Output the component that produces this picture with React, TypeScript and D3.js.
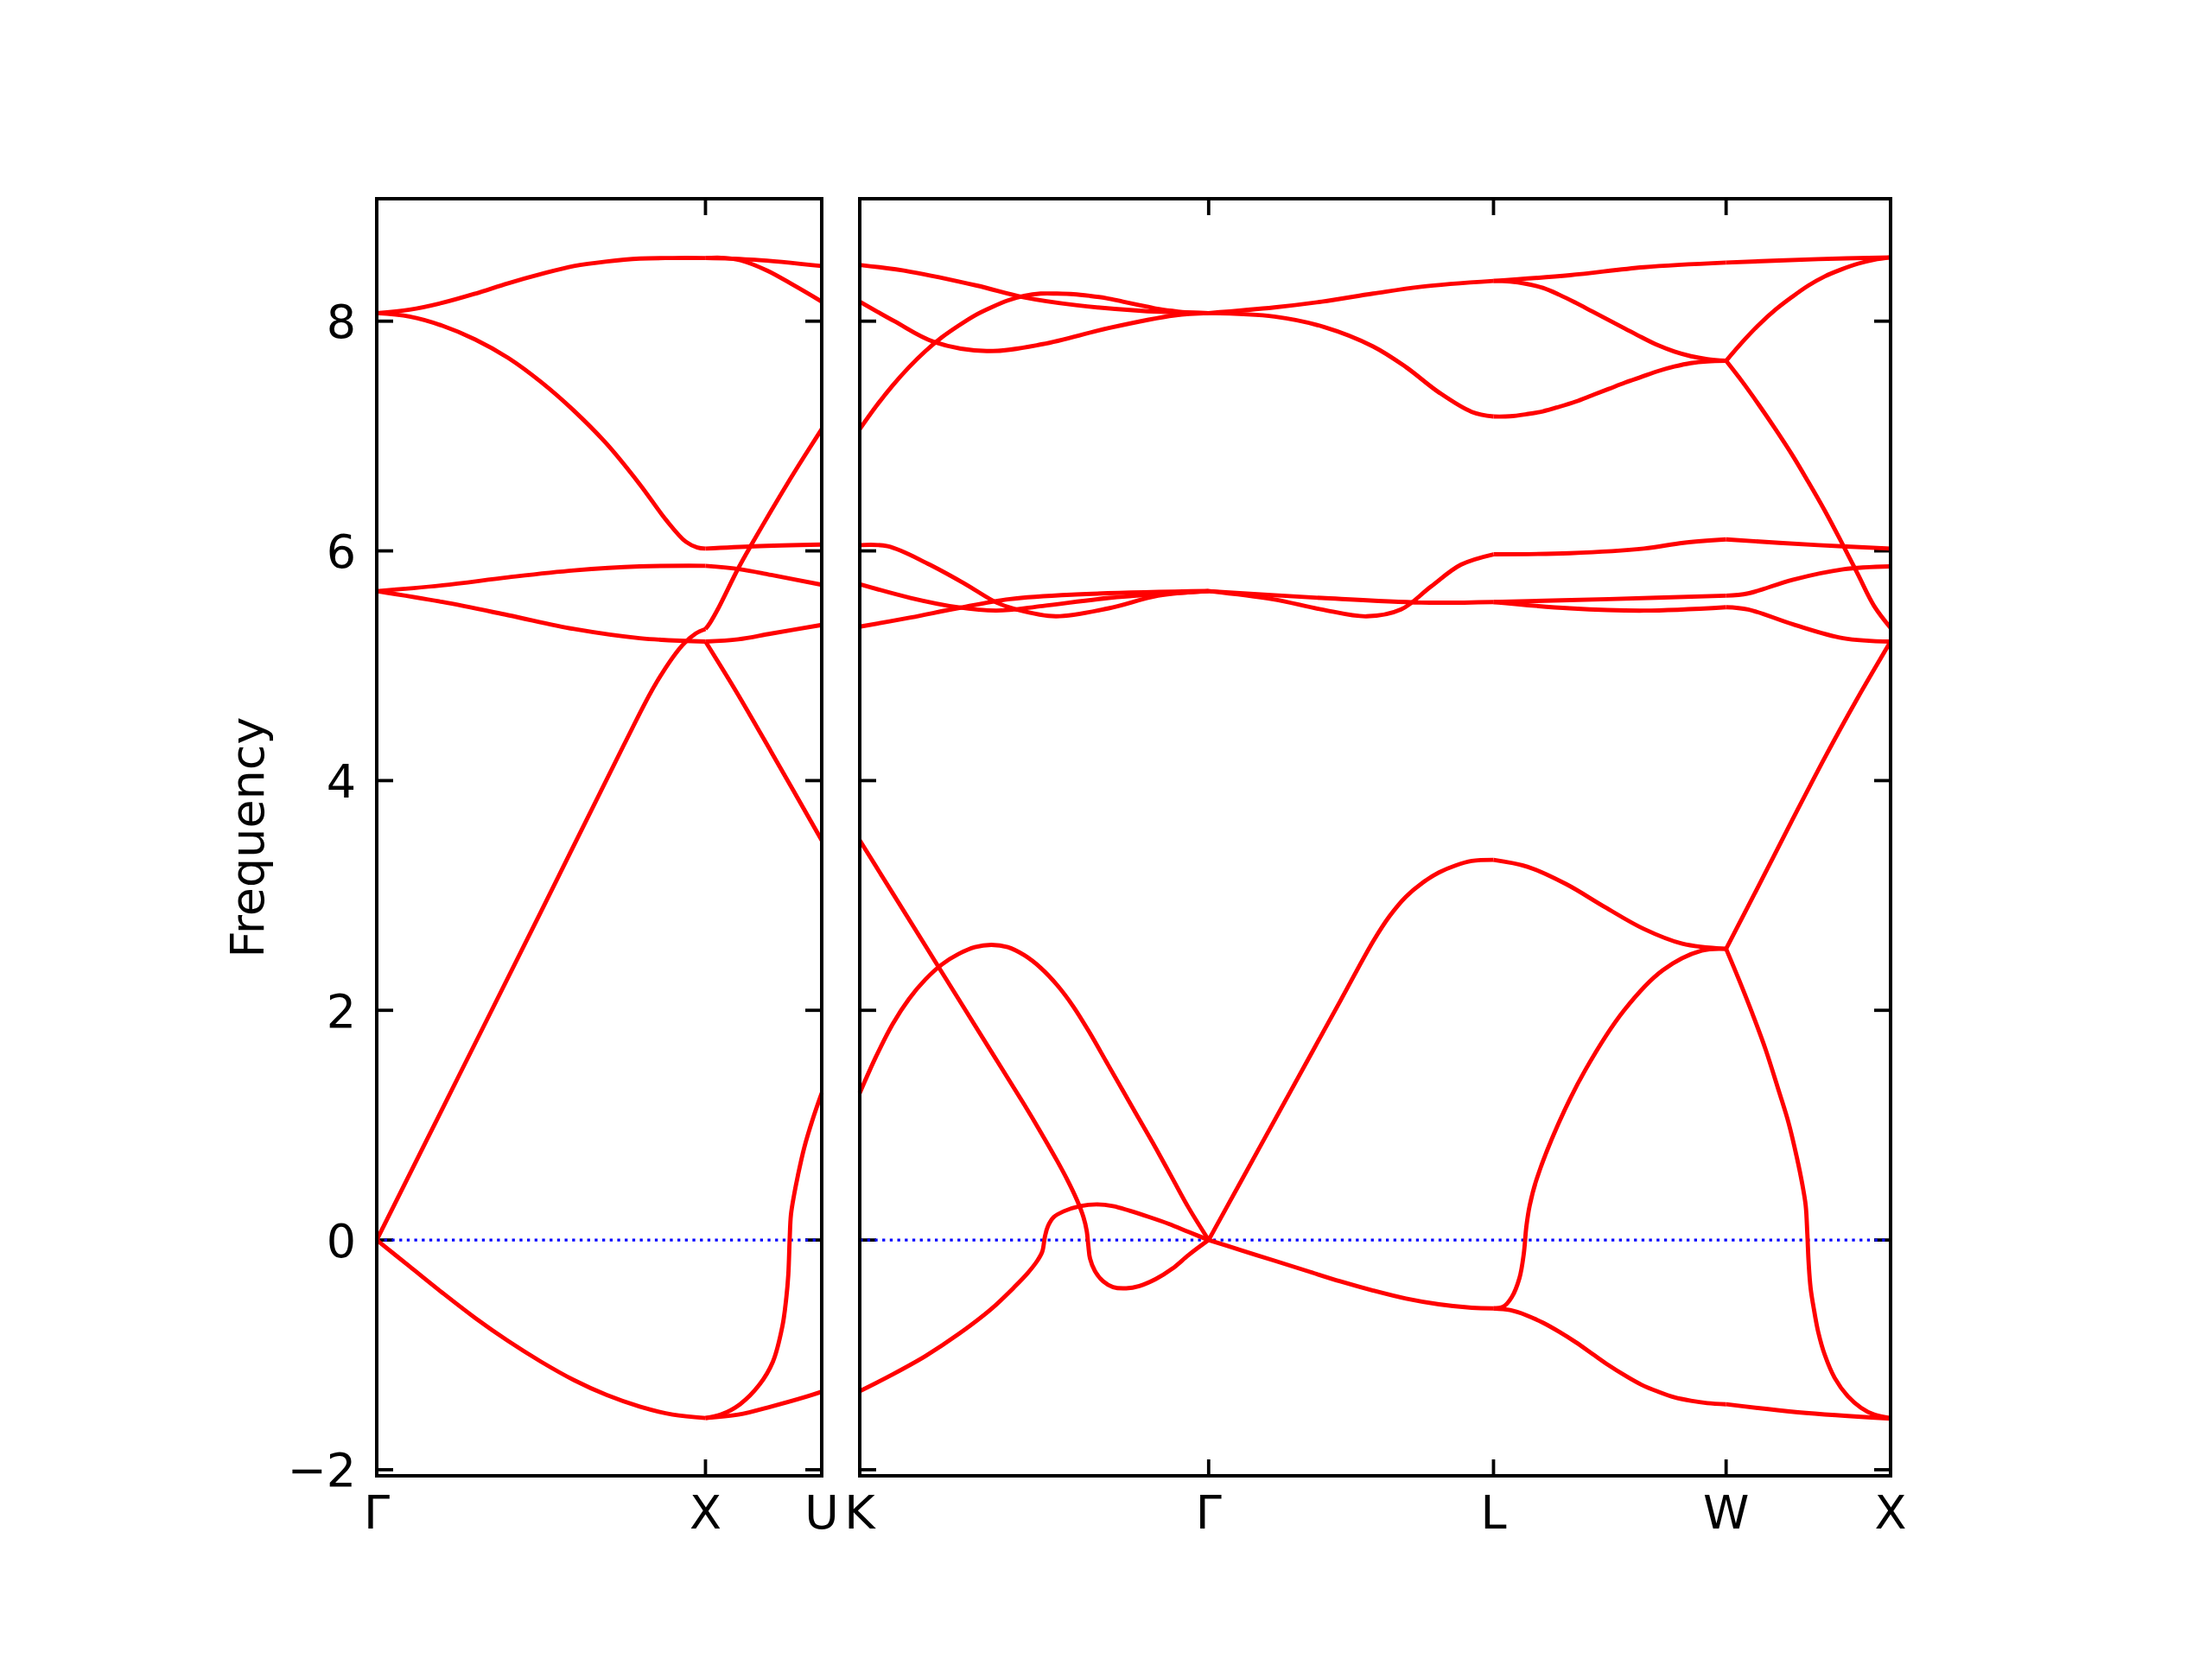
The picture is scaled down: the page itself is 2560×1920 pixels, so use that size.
import React, { useEffect, useRef } from 'react';
import * as d3 from 'd3';

type Pt = [number, number];

// high-symmetry points: distance along the path (2π/a units)
const leftLabels = ['Γ', 'X', 'U'];
const leftTicks = [0, 1.0, 1.3536];
const rightLabels = ['K', 'Γ', 'L', 'W', 'X'];
const rightTicks = [0, 1.0607, 1.9267, 2.6338, 3.1338];

const yTicks = [-2, 0, 2, 4, 6, 8];

// branches for each segment: [distance from segment start, frequency]
const gammaX: Pt[][] = [
  [[0, 0], [0.1, -0.23], [0.2, -0.46], [0.3, -0.68], [0.4, -0.88], [0.5, -1.06], [0.6, -1.22], [0.7, -1.35],
   [0.8, -1.45], [0.9, -1.52], [1, -1.55]],
  [[0, 0], [0.25, 1.43], [0.5, 2.86], [0.75, 4.3], [0.85, 4.85], [0.93, 5.18], [0.97, 5.28], [1, 5.32]],
  [[0, 5.65], [0.2, 5.555], [0.4, 5.44], [0.6, 5.32], [0.8, 5.24], [1, 5.21]],
  [[0, 5.65], [0.2, 5.7], [0.4, 5.77], [0.6, 5.83], [0.8, 5.865], [1, 5.87]],
  [[0, 8.07], [0.1, 8.1], [0.2, 8.16], [0.3, 8.24], [0.4, 8.33], [0.5, 8.41], [0.6, 8.48], [0.7, 8.52],
   [0.8, 8.545], [0.9, 8.55], [1, 8.55]],
  [[0, 8.07], [0.1, 8.04], [0.2, 7.96], [0.3, 7.84], [0.4, 7.68], [0.5, 7.47], [0.6, 7.22], [0.7, 6.93],
   [0.8, 6.58], [0.88, 6.27], [0.94, 6.08], [0.975, 6.03], [1, 6.02]],
];

const xU: Pt[][] = [
  [[0, -1.55], [0.1, -1.52], [0.2, -1.45], [0.3, -1.37], [0.3536, -1.32]],
  [[0, -1.55], [0.047, -1.52], [0.105, -1.43], [0.164, -1.26], [0.205, -1.06], [0.234, -0.75], [0.246, -0.5],
   [0.252, -0.3], [0.256, 0], [0.26, 0.22], [0.27, 0.4], [0.281, 0.56], [0.3, 0.8], [0.326, 1.05], [0.3536, 1.28]],
  [[0, 5.32], [0.013, 5.37], [0.039, 5.5], [0.1, 5.85], [0.141, 6.06], [0.2, 6.35], [0.248, 6.58], [0.3, 6.82], [0.3536, 7.06]],
  [[0, 5.21], [0.0925, 4.78], [0.2, 4.25], [0.3536, 3.48]],
  [[0, 5.21], [0.1, 5.23], [0.2, 5.28], [0.3536, 5.355]],
  [[0, 5.87], [0.106, 5.84], [0.2, 5.79], [0.3536, 5.705]],
  [[0, 6.02], [0.15, 6.04], [0.3536, 6.055]],
  [[0, 8.55], [0.15, 8.535], [0.3536, 8.48]],
  [[0, 8.55], [0.06, 8.55], [0.106, 8.53], [0.188, 8.44], [0.27, 8.31], [0.3536, 8.17]],
];

const kGamma: Pt[][] = [
  [[0, 8.49], [0.155, 8.43], [0.356, 8.31], [0.496, 8.21], [0.657, 8.14], [0.857, 8.09], [1.0607, 8.07]],
  [[0, 8.17], [0.105, 8.0], [0.225, 7.82], [0.386, 7.74], [0.556, 7.8], [0.757, 7.94], [0.957, 8.05], [1.0607, 8.07]],
  [[0, 7.06], [0.05, 7.26], [0.1, 7.44], [0.15, 7.6], [0.2, 7.74], [0.25, 7.86], [0.3, 7.96], [0.35, 8.05], [0.4, 8.12],
   [0.45, 8.18], [0.5, 8.22], [0.55, 8.24], [0.6, 8.24], [0.65, 8.235], [0.7, 8.22], [0.75, 8.2], [0.8, 8.17],
   [0.85, 8.14], [0.9, 8.11], [0.95, 8.09], [1.0, 8.075], [1.0607, 8.07]],
  [[0, 6.05], [0.085, 6.04], [0.206, 5.89], [0.316, 5.72], [0.416, 5.55], [0.476, 5.49], [0.596, 5.43], [0.757, 5.5], [0.907, 5.61], [1.0607, 5.65]],
  [[0, 5.71], [0.155, 5.59], [0.296, 5.51], [0.416, 5.48], [0.556, 5.52], [0.757, 5.59], [1.0607, 5.65]],
  [[0, 5.34], [0.155, 5.42], [0.296, 5.5], [0.456, 5.58], [0.657, 5.62], [1.0607, 5.65]],
  [[0, 3.48], [0.1, 3.02], [0.2, 2.56], [0.3, 2.1], [0.4, 1.64], [0.5, 1.18], [0.55, 0.94], [0.6, 0.69], [0.63, 0.53],
   [0.66, 0.35], [0.68, 0.2], [0.69, 0.08], [0.695, -0.05], [0.7, -0.16], [0.715, -0.27], [0.74, -0.36], [0.77, -0.41],
   [0.81, -0.42], [0.85, -0.4], [0.9, -0.34], [0.95, -0.25], [1.0, -0.13], [1.0607, 0]],
  [[0, 1.28], [0.05, 1.6], [0.1, 1.88], [0.15, 2.1], [0.2, 2.27], [0.25, 2.4], [0.3, 2.49], [0.35, 2.55], [0.4, 2.57],
   [0.45, 2.55], [0.5, 2.48], [0.55, 2.37], [0.6, 2.22], [0.65, 2.03], [0.7, 1.8], [0.75, 1.55], [0.8, 1.3],
   [0.85, 1.05], [0.9, 0.8], [0.95, 0.54], [1.0, 0.28], [1.0607, 0]],
  [[0, -1.316], [0.1, -1.17], [0.2, -1.01], [0.3, -0.82], [0.4, -0.6], [0.47, -0.41], [0.51, -0.29], [0.54, -0.18],
   [0.555, -0.1], [0.563, 0.03], [0.572, 0.12], [0.59, 0.2], [0.62, 0.25], [0.67, 0.295], [0.72, 0.31], [0.77, 0.295],
   [0.82, 0.255], [0.88, 0.2], [0.94, 0.14], [1.0, 0.07], [1.0607, 0]],
];

const gammaL: Pt[][] = [
  [[0, 8.07], [0.2, 8.12], [0.344, 8.17], [0.5, 8.24], [0.646, 8.3], [0.866, 8.35]],
  [[0, 8.07], [0.2, 8.04], [0.35, 7.95], [0.5, 7.78], [0.6, 7.6], [0.7, 7.38], [0.8, 7.21], [0.866, 7.17]],
  [[0, 5.65], [0.193, 5.58], [0.344, 5.49], [0.48, 5.43], [0.585, 5.49], [0.676, 5.69], [0.767, 5.88], [0.866, 5.97]],
  [[0, 5.65], [0.344, 5.59], [0.646, 5.55], [0.866, 5.555]],
  [[0, 0], [0.1, 0.52], [0.2, 1.04], [0.3, 1.56], [0.4, 2.08], [0.5, 2.6], [0.55, 2.82], [0.6, 2.99], [0.65, 3.11],
   [0.7, 3.2], [0.75, 3.26], [0.8, 3.3], [0.866, 3.31]],
  [[0, 0], [0.1, -0.09], [0.2, -0.18], [0.3, -0.27], [0.4, -0.36], [0.5, -0.44], [0.6, -0.51], [0.7, -0.56],
   [0.8, -0.59], [0.866, -0.595]],
];

const lW: Pt[][] = [
  [[0, 8.35], [0.232, 8.4], [0.457, 8.47], [0.7071, 8.51]],
  [[0, 8.35], [0.05, 8.345], [0.1, 8.325], [0.15, 8.29], [0.2, 8.23], [0.25, 8.16], [0.3, 8.085], [0.35, 8.01],
   [0.4, 7.935], [0.45, 7.86], [0.5, 7.79], [0.55, 7.735], [0.6, 7.695], [0.65, 7.67], [0.7071, 7.655]],
  [[0, 7.17], [0.05, 7.172], [0.1, 7.19], [0.15, 7.215], [0.2, 7.255], [0.25, 7.3], [0.3, 7.355], [0.35, 7.41],
   [0.4, 7.465], [0.45, 7.515], [0.5, 7.565], [0.55, 7.605], [0.6, 7.635], [0.65, 7.65], [0.7071, 7.655]],
  [[0, 5.97], [0.232, 5.98], [0.457, 6.02], [0.577, 6.07], [0.7071, 6.1]],
  [[0, 5.555], [0.35, 5.58], [0.7071, 5.61]],
  [[0, 5.555], [0.232, 5.5], [0.457, 5.48], [0.7071, 5.51]],
  [[0, 3.31], [0.103, 3.25], [0.22, 3.1], [0.338, 2.9], [0.456, 2.71], [0.574, 2.58], [0.7071, 2.535]],
  [[0, -0.595], [0.03, -0.58], [0.055, -0.5], [0.079, -0.33], [0.092, -0.12], [0.1, 0.12], [0.11, 0.3], [0.13, 0.52],
   [0.197, 1.01], [0.279, 1.48], [0.397, 2.0], [0.515, 2.35], [0.633, 2.52], [0.7071, 2.535]],
  [[0, -0.595], [0.05, -0.61], [0.1, -0.655], [0.15, -0.72], [0.2, -0.8], [0.25, -0.89], [0.3, -0.99], [0.35, -1.09],
   [0.4, -1.18], [0.45, -1.26], [0.5, -1.32], [0.55, -1.37], [0.6, -1.4], [0.65, -1.42], [0.7071, -1.43]],
];

const wX: Pt[][] = [
  [[0, 8.51], [0.28, 8.54], [0.5, 8.555]],
  [[0, 7.655], [0.05, 7.82], [0.1, 7.97], [0.15, 8.1], [0.2, 8.21], [0.25, 8.31], [0.3, 8.39], [0.35, 8.45],
   [0.4, 8.5], [0.45, 8.535], [0.5, 8.555]],
  [[0, 7.655], [0.05, 7.47], [0.1, 7.27], [0.15, 7.06], [0.2, 6.84], [0.25, 6.6], [0.3, 6.35], [0.35, 6.08],
   [0.4, 5.8], [0.45, 5.52], [0.5, 5.33]],
  [[0, 6.1], [0.28, 6.05], [0.5, 6.02]],
  [[0, 5.61], [0.067, 5.63], [0.204, 5.75], [0.356, 5.84], [0.5, 5.865]],
  [[0, 5.51], [0.067, 5.49], [0.204, 5.36], [0.356, 5.24], [0.5, 5.21]],
  [[0, 2.535], [0.1, 3.09], [0.2, 3.65], [0.3, 4.2], [0.4, 4.72], [0.5, 5.21]],
  [[0, 2.535], [0.04, 2.26], [0.08, 1.97], [0.12, 1.66], [0.16, 1.3], [0.19, 1.02], [0.215, 0.72], [0.232, 0.48],
   [0.242, 0.3], [0.247, 0.05], [0.251, -0.2], [0.257, -0.42], [0.268, -0.62], [0.28, -0.8], [0.3, -1.0],
   [0.33, -1.2], [0.37, -1.36], [0.41, -1.46], [0.45, -1.52], [0.5, -1.55]],
  [[0, -1.43], [0.219, -1.5], [0.5, -1.555]],
];

const BandPlot = () => {
  const svgRef = useRef<SVGSVGElement>(null);

  useEffect(() => {
    const width = 2560;
    const height = 1920;
    const top = 230;
    const bottom = 1708;
    const tickLen = 19;
    const font = 'DejaVu Sans, sans-serif';

    const svg = d3.select(svgRef.current)
      .attr('width', width)
      .attr('height', height);
    svg.selectAll('*').remove();

    const y = d3.scaleLinear().domain([-2.053, 9.066]).range([bottom, top]);

    const panels = [
      { x0: 436, x1: 951, ticks: leftTicks, labels: leftLabels, segments: [[leftTicks[0], gammaX], [leftTicks[1], xU]] as [number, Pt[][]][], yLabels: true },
      {
        x0: 995, x1: 2188, ticks: rightTicks, labels: rightLabels,
        segments: [[rightTicks[0], kGamma], [rightTicks[1], gammaL], [rightTicks[2], lW], [rightTicks[3], wX]] as [number, Pt[][]][],
        yLabels: false,
      },
    ];

    panels.forEach(p => {
      const x = d3.scaleLinear().domain([p.ticks[0], p.ticks[p.ticks.length - 1]]).range([p.x0, p.x1]);
      const g = svg.append('g');

      // y ticks, inward on both sides
      yTicks.forEach(t => {
        g.append('line').attr('x1', p.x0).attr('x2', p.x0 + tickLen).attr('y1', y(t)).attr('y2', y(t))
          .attr('stroke', '#000').attr('stroke-width', 3.8);
        g.append('line').attr('x1', p.x1).attr('x2', p.x1 - tickLen).attr('y1', y(t)).attr('y2', y(t))
          .attr('stroke', '#000').attr('stroke-width', 3.8);
      });

      // x ticks at the high-symmetry points, top and bottom
      p.ticks.forEach(t => {
        g.append('line').attr('x1', x(t)).attr('x2', x(t)).attr('y1', top).attr('y2', top + tickLen)
          .attr('stroke', '#000').attr('stroke-width', 3.8);
        g.append('line').attr('x1', x(t)).attr('x2', x(t)).attr('y1', bottom).attr('y2', bottom - tickLen)
          .attr('stroke', '#000').attr('stroke-width', 3.8);
      });

      // zero line
      g.append('line')
        .attr('x1', p.x0).attr('x2', p.x1).attr('y1', y(0)).attr('y2', y(0))
        .attr('stroke', '#0000ff').attr('stroke-width', 3.3).attr('stroke-dasharray', '3.3 5.4');

      // phonon branches
      p.segments.forEach(([offset, branches]) => {
        const line = d3.line<Pt>()
          .x(d => x(offset + d[0]))
          .y(d => y(d[1]))
          .curve(d3.curveCatmullRom.alpha(0.5));
        branches.forEach(b => {
          g.append('path').attr('d', line(b)).attr('fill', 'none')
            .attr('stroke', '#ff0000').attr('stroke-width', 4.9).attr('stroke-linejoin', 'round');
        });
      });

      // frame
      g.append('rect')
        .attr('x', p.x0).attr('y', top).attr('width', p.x1 - p.x0).attr('height', bottom - top)
        .attr('fill', 'none').attr('stroke', '#000').attr('stroke-width', 4);

      // x labels
      p.ticks.forEach((t, i) => {
        g.append('text')
          .attr('x', x(t)).attr('y', 1769)
          .attr('text-anchor', 'middle')
          .style('font-family', font).style('font-size', '54px')
          .text(p.labels[i]);
      });

      if (p.yLabels) {
        yTicks.forEach(t => {
          g.append('text')
            .attr('x', p.x0 - 24).attr('y', y(t)).attr('dy', '0.36em')
            .attr('text-anchor', 'end')
            .style('font-family', font).style('font-size', '54px')
            .text(d3.format('d')(t));
        });
      }
    });

    // y-axis label
    svg.append('text')
      .attr('transform', 'rotate(-90)')
      .attr('x', -969)
      .attr('y', 305)
      .attr('text-anchor', 'middle')
      .style('font-family', font).style('font-size', '54px')
      .text('Frequency');
  }, []);

  return <svg ref={svgRef} style={{ position: 'absolute', left: 0, top: 0 }}></svg>;
};

export default function App() {
  return <BandPlot />;
}
